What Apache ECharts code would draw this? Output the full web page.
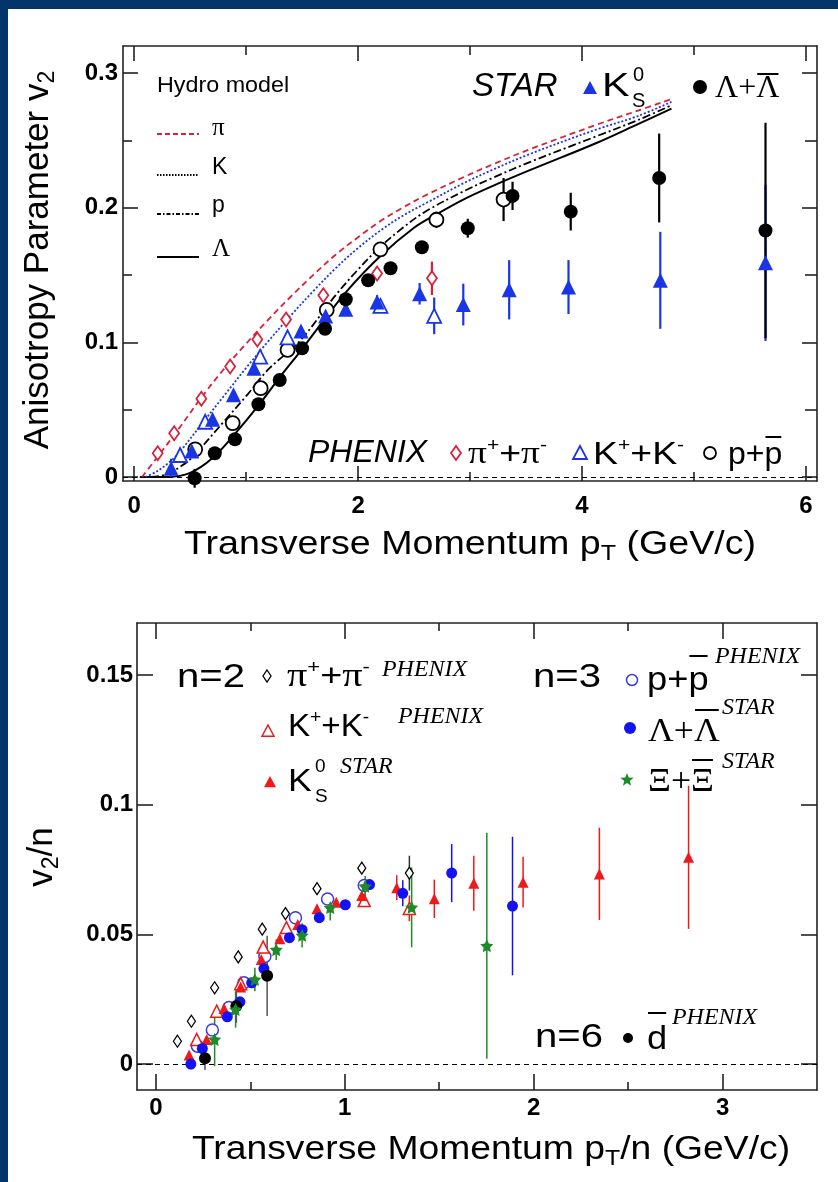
<!DOCTYPE html>
<html>
<head>
<meta charset="utf-8">
<script src="https://cdn.jsdelivr.net/npm/echarts@6/dist/echarts.min.js"></script>
<style>
html, body { margin: 0; padding: 0; background: #fff; }
#chart { width: 838px; height: 1182px; }
</style>
</head>
<body>
<div id="chart"></div>
<script>
// ---- upper panel: v2 vs pT, points are [pT, v2, error] ----
const piPhenix = [[0.21,0.0176,0],[0.357,0.0324,0],[0.60,0.058,0],[0.857,0.082,0],[1.10,0.102,0],[1.357,0.117,0],[1.69,0.135,0.003],[2.17,0.151,0.004],[2.66,0.1475,0.0124]];
const kPhenix = [[0.41,0.0163,0],[0.634,0.041,0],[1.125,0.0893,0],[1.37,0.1037,0],[2.20,0.127,0.004],[2.68,0.1196,0.0136]];
const pPhenix = [[0.545,0.0205,0],[0.88,0.040,0],[1.13,0.0659,0.003],[1.37,0.0943,0.003],[1.72,0.124,0.004],[2.20,0.169,0.004],[2.70,0.191,0.006],[3.30,0.206,0.016]];
const k0Star = [[0.33,0.0065,0.007],[0.515,0.0193,0.003],[0.70,0.0428,0],[0.887,0.061,0],[1.07,0.0807,0],[1.49,0.1084,0],[1.71,0.1196,0],[1.89,0.1245,0.003],[2.17,0.130,0.005],[2.55,0.136,0.008],[2.94,0.128,0.0155],[3.35,0.139,0.022],[3.88,0.141,0.02],[4.70,0.146,0.036],[5.64,0.159,0.058]];
const lamStar = [[0.54,-0.001,0.007],[0.72,0.0176,0],[0.90,0.028,0],[1.11,0.054,0],[1.30,0.072,0],[1.50,0.0955,0],[1.705,0.110,0],[1.89,0.132,0.003],[2.09,0.146,0.003],[2.29,0.155,0.003],[2.57,0.1706,0.004],[2.98,0.1847,0.007],[3.38,0.2087,0.0105],[3.90,0.197,0.014],[4.69,0.222,0.033],[5.64,0.183,0.08]];

// hydro model curves
const hydroPi = [[0.07,0],[0.2,0.014],[0.4,0.036],[0.6,0.059],[0.8,0.080],[1.0,0.099],[1.2,0.117],[1.4,0.134],[1.6,0.150],[1.8,0.165],[2.0,0.178],[2.2,0.190],[2.4,0.200],[2.6,0.209],[2.94,0.2225],[3.2,0.232],[3.54,0.2435],[4.13,0.2615],[4.5,0.272],[4.8,0.2805]];
const hydroK = [[0.1,0],[0.2,0.004],[0.3,0.010],[0.4,0.018],[0.6,0.039],[0.8,0.060],[1.0,0.081],[1.2,0.101],[1.4,0.120],[1.6,0.138],[1.8,0.155],[2.0,0.170],[2.2,0.183],[2.4,0.194],[2.6,0.203],[2.94,0.218],[3.2,0.228],[3.54,0.240],[4.13,0.258],[4.5,0.268],[4.8,0.2785]];
const hydroP = [[0.15,0],[0.3,0.002],[0.4,0.007],[0.5,0.013],[0.6,0.022],[0.8,0.041],[1.0,0.060],[1.2,0.080],[1.48,0.101],[1.8,0.135],[2.0,0.154],[2.2,0.171],[2.4,0.185],[2.6,0.197],[2.94,0.212],[3.2,0.222],[3.54,0.234],[4.13,0.253],[4.5,0.265],[4.8,0.276]];
const hydroLam = [[0.05,0],[0.3,0.0],[0.5,0.003],[0.7,0.014],[0.9,0.032],[1.1,0.052],[1.3,0.074],[1.5,0.095],[1.7,0.117],[1.9,0.138],[2.2,0.164],[2.5,0.185],[2.7,0.195],[2.94,0.206],[3.2,0.216],[3.54,0.228],[4.13,0.248],[4.5,0.262],[4.8,0.2735]];

// ---- lower panel: v2/n vs pT/n ----
const pi2 = [[0.114,0.0088,0],[0.188,0.0165,0],[0.311,0.0294,0],[0.436,0.0413,0],[0.563,0.052,0],[0.686,0.058,0],[0.853,0.0676,0],[1.09,0.0755,0.002],[1.342,0.0736,0.0067]];
const kp2 = [[0.216,0.0095,0],[0.322,0.0204,0],[0.449,0.031,0],[0.568,0.0451,0],[0.691,0.0526,0],[1.103,0.063,0.002],[1.342,0.060,0.005]];
const k0s2 = [[0.176,0.0035,0],[0.269,0.0095,0],[0.361,0.0214,0],[0.449,0.0297,0],[0.558,0.0403,0],[0.656,0.0483,0],[0.751,0.0538,0],[0.853,0.0599,0],[0.955,0.0624,0],[1.09,0.065,0.002],[1.275,0.068,0.0048],[1.474,0.0637,0.0074],[1.683,0.0697,0.0106],[1.944,0.0701,0.0098],[2.348,0.0733,0.0178],[2.82,0.0797,0.0276]];
const pp3 = [[0.22,0.0069,0],[0.299,0.0131,0],[0.387,0.0218,0],[0.466,0.0313,0],[0.577,0.0415,0],[0.739,0.0564,0],[0.909,0.0636,0.002],[1.103,0.0688,0.002]];
const lam3 = [[0.185,0.0,0.002],[0.246,0.006,0],[0.378,0.0182,0],[0.445,0.024,0],[0.507,0.0313,0],[0.572,0.0368,0],[0.707,0.0487,0],[0.774,0.0518,0],[0.865,0.0564,0],[1.003,0.0614,0],[1.131,0.0692,0.002],[1.307,0.0658,0.005],[1.566,0.0736,0.0112],[1.888,0.0609,0.0267]];
const xi3 = [[0.311,0.0095,0.0103],[0.422,0.021,0.007],[0.524,0.0326,0.0045],[0.637,0.0441,0.004],[0.774,0.0496,0.0047],[0.923,0.0603,0.005],[1.108,0.0685,0.004],[1.354,0.0604,0.0154],[1.752,0.0456,0.0436]];
const d6 = [[0.26,0.0022,0.0045],[0.426,0.0224,0.0065],[0.589,0.034,0.0155]];

// tick positions
const topXMajor = [0, 2, 4, 6];
const topXMinor = [1, 3, 5];
const topYMajor = [0, 0.1, 0.2, 0.3];
const topYMinor = [0.05, 0.15, 0.25];
const botXMajor = [0, 1, 2, 3];
const botXMinor = [0.5, 1.5, 2.5];
const botYMajor = [0, 0.05, 0.1, 0.15];

const SANS = '"Liberation Sans", Arial, Helvetica, sans-serif';
const SERIF = '"Liberation Serif", "Times New Roman", serif';
const RED = '#d8203c', BLUE = '#1a35e6';
const RED2 = '#f01818', BLUE2 = '#1212f2', BLUE2O = '#3a3ae0', GREEN = '#1f8a2a';
const STAR_PATH = 'path://M0,-10L2.94,-4.05L9.51,-3.09L4.76,1.55L5.88,8.09L0,5L-5.88,8.09L-4.76,1.55L-9.51,-3.09L-2.94,-4.05Z';

function axis(grid, pos, min, max, ticks, len, labels, margin, line) {
  return {
    type: 'value', gridIndex: grid, position: pos, min: min, max: max,
    axisLine: { show: line, onZero: false, lineStyle: { color: '#222', width: 1.6 } },
    axisTick: { show: true, inside: true, length: len, customValues: ticks, lineStyle: { color: '#222', width: 1.6 } },
    axisLabel: labels ? { show: true, customValues: labels, margin: margin, color: '#000',
      fontFamily: SANS, fontWeight: 'bold', fontSize: 24 } : { show: false },
    splitLine: { show: false }
  };
}

function errBars(data, color, ax, width) {
  return {
    type: 'custom', xAxisIndex: ax, yAxisIndex: ax, data: data, z: 2, silent: true,
    encode: { x: 0, y: 1 },
    renderItem: function (params, api) {
      const e = api.value(2);
      if (!e) return null;
      const a = api.coord([api.value(0), api.value(1) - e]);
      const b = api.coord([api.value(0), api.value(1) + e]);
      return { type: 'line', shape: { x1: a[0], y1: a[1], x2: b[0], y2: b[1] },
        style: { stroke: color, lineWidth: width } };
    }
  };
}

function points(data, symbol, size, fill, stroke, bw, ax) {
  return {
    type: 'scatter', xAxisIndex: ax, yAxisIndex: ax, data: data, symbol: symbol, symbolSize: size,
    z: 5, silent: true,
    itemStyle: { color: fill, borderColor: stroke, borderWidth: bw, opacity: 1 }
  };
}

function curve(data, color, dash, width) {
  return {
    type: 'line', xAxisIndex: 0, yAxisIndex: 0, data: data, showSymbol: false, smooth: 0.35,
    silent: true, z: 1, lineStyle: { color: color, type: dash, width: width }
  };
}

const zeroLine = {
  silent: true, symbol: 'none', label: { show: false },
  lineStyle: { color: '#000', type: [5, 4], width: 1 }, data: [{ yAxis: 0 }]
};

// ---- text helpers ----
const mctx = document.createElement('canvas').getContext('2d');
function tw(font, s) { mctx.font = font; return mctx.measureText(s).width; }

function txt(x, y, text, font, o) {
  o = o || {};
  const al = o.align || 'left';
  const st = { text: text, font: font, fill: '#000', align: al, textAlign: al,
    verticalAlign: 'middle', textVerticalAlign: 'middle' };
  if (o.rich) st.rich = o.rich;
  const el = { type: 'text', x: x, y: y, z: 50, silent: true, style: st };
  if (o.rotation) el.rotation = o.rotation;
  if (o.sx) el.scaleX = o.sx;
  if (o.sy) el.scaleY = o.sy;
  return el;
}
function seg(x1, y1, x2, y2, color, w, dash) {
  const st = { stroke: color, lineWidth: w };
  if (dash) st.lineDash = dash;
  return { type: 'line', z: 50, silent: true, shape: { x1: x1, y1: y1, x2: x2, y2: y2 }, style: st };
}
function overline(x0, y, font, prefix, target, sx) {
  sx = sx || 1;
  const a = x0 + tw(font, prefix) * sx, b = x0 + tw(font, prefix + target) * sx;
  return seg(a + 1, y, b - 1, y, '#000', 2);
}
function tri(cx, cy, s, fill, stroke, w) {
  return { type: 'polygon', z: 50, silent: true,
    shape: { points: [[cx - s / 2, cy + s * 0.43], [cx + s / 2, cy + s * 0.43], [cx, cy - s * 0.5]] },
    style: { fill: fill, stroke: stroke, lineWidth: w || 0 } };
}
function dia(cx, cy, w, h, stroke, lw) {
  return { type: 'polygon', z: 50, silent: true,
    shape: { points: [[cx, cy - h / 2], [cx + w / 2, cy], [cx, cy + h / 2], [cx - w / 2, cy]] },
    style: { fill: '#fff', stroke: stroke, lineWidth: lw } };
}
function dot(cx, cy, r, fill, stroke, lw) {
  return { type: 'circle', z: 50, silent: true, shape: { cx: cx, cy: cy, r: r },
    style: { fill: fill, stroke: stroke || null, lineWidth: lw || 0 } };
}
function starShape(cx, cy, r, fill) {
  const pts = [];
  for (let i = 0; i < 10; i++) {
    const a = -Math.PI / 2 + i * Math.PI / 5, rr = i % 2 ? r * 0.42 : r;
    pts.push([cx + rr * Math.cos(a), cy + rr * Math.sin(a)]);
  }
  return { type: 'polygon', z: 50, silent: true, shape: { points: pts }, style: { fill: fill } };
}

const F32 = '32px ' + SANS, F33 = '33px ' + SANS;
const G32 = '32px ' + SERIF, G33 = '33px ' + SERIF;
const TAG = 'italic 23px ' + SERIF;
const richBig = {
  g: { fontSize: 32, fontFamily: SERIF, lineHeight: 36 },
  n: { fontSize: 32, fontFamily: SANS, lineHeight: 36 },
  s: { fontSize: 18, fontFamily: SANS, lineHeight: 18, verticalAlign: 'top' }
};
const richMid = {
  g: { fontSize: 33, fontFamily: SERIF, lineHeight: 36 },
  n: { fontSize: 31, fontFamily: SANS, lineHeight: 36 },
  s: { fontSize: 18, fontFamily: SANS, lineHeight: 18, verticalAlign: 'top' }
};
const richTitle = {
  n: { fontSize: 33, fontFamily: SANS, lineHeight: 40 },
  s: { fontSize: 22, fontFamily: SANS, lineHeight: 22, verticalAlign: 'bottom' }
};
const richTitleV = {
  n: { fontSize: 35, fontFamily: SANS, lineHeight: 42 },
  s: { fontSize: 23, fontFamily: SANS, lineHeight: 23, verticalAlign: 'bottom' }
};

const graphics = [
  // page frame strips
  { type: 'rect', z: 0, silent: true, shape: { x: 0, y: 0, width: 838, height: 9 }, style: { fill: '#02366a' } },
  { type: 'rect', z: 0, silent: true, shape: { x: 0, y: 0, width: 8, height: 1182 }, style: { fill: '#02366a' } },

  // upper panel titles
  txt(470, 545, '{n|Transverse Momentum p}{s|T}{n| (GeV/c)}', F32, { align: 'center', rich: richTitle, sx: 1.14 }),
  txt(38, 260, '{n|Anisotropy Parameter v}{s|2}', F32, { align: 'center', rich: richTitleV, rotation: Math.PI / 2 }),

  // hydro legend
  txt(157, 86, 'Hydro model', '22px ' + SANS, { sx: 1.06 }),
  seg(157, 134, 199, 134, RED, 1.8, [5, 3]),
  txt(212, 128, 'π', '25px ' + SERIF),
  seg(157, 175, 199, 175, '#000', 1.8, [1.5, 1.5]),
  txt(212, 168, 'K', '23px ' + SANS),
  seg(157, 214, 199, 214, '#000', 1.8, [4, 2, 1.5, 2]),
  txt(212, 206, 'p', '23px ' + SANS),
  seg(157, 257, 199, 257, '#000', 2),
  txt(212, 249, 'Λ', '25px ' + SERIF),

  // STAR legend
  txt(472, 87, 'STAR', 'italic 33px ' + SANS),
  tri(590, 88, 14, BLUE),
  txt(602, 87, 'K', '33px ' + SANS, { sx: 1.25 }),
  txt(633, 75, '0', '20px ' + SANS),
  txt(632, 101, 'S', '20px ' + SANS),
  dot(700, 87, 7, '#000'),
  txt(715, 89, 'Λ+Λ', G32),
  overline(715, 74, G32, 'Λ+', 'Λ'),

  // PHENIX legend
  txt(308, 453, 'PHENIX', 'italic ' + F32),
  dia(456, 453, 10, 14, RED, 1.8),
  txt(468, 455, '{g|π}{s|+}{n|+}{g|π}{s|-}', F32, { rich: richBig, sx: 1.17 }),
  tri(580, 453, 14, '#fff', BLUE, 1.8),
  txt(593, 455, '{n|K}{s|+}{n|+K}{s|-}', F32, { rich: richBig, sx: 1.17 }),
  dot(710, 453, 6, '#fff', '#000', 1.8),
  txt(728, 455, 'p+p', F32),
  overline(728, 437, F32, 'p+', 'p'),

  // lower panel titles
  txt(491, 1150, '{n|Transverse Momentum p}{s|T}{n|/n (GeV/c)}', F32, { align: 'center', rich: richTitle, sx: 1.13 }),
  txt(42, 857, '{n|v}{s|2}{n|/n}', F32, { align: 'center', rich: richTitleV, rotation: Math.PI / 2 }),

  // n=2 block
  txt(177, 678, 'n=2', '34px ' + SANS, { sx: 1.18 }),
  dia(267, 676, 8, 12, '#000', 1.3),
  txt(287, 677, '{g|π}{s|+}{n|+}{g|π}{s|-}', F32, { rich: richMid, sx: 1.22 }),
  txt(382, 670, 'PHENIX', TAG, { sx: 1.04 }),
  tri(268, 731, 12, '#fff', RED2, 1.5),
  txt(288, 727, '{n|K}{s|+}{n|+K}{s|-}', F32, { rich: richMid, sx: 1.07 }),
  txt(398, 717, 'PHENIX', TAG, { sx: 1.04 }),
  tri(270, 782, 12, RED2),
  txt(288, 782, 'K', '31px ' + SANS, { sx: 1.15 }),
  txt(315, 767, '0', '19px ' + SANS),
  txt(315, 797, 'S', '19px ' + SANS),
  txt(340, 767, 'STAR', TAG, { sx: 1.04 }),

  // n=3 block
  txt(533, 678, 'n=3', '34px ' + SANS, { sx: 1.18 }),
  dot(632, 680, 5.5, '#fff', BLUE2O, 1.5),
  txt(647, 681, 'p+p', F33, { sx: 1.1 }),
  overline(647, 656, F33, 'p+', 'p', 1.1),
  txt(715, 657, 'PHENIX', TAG, { sx: 1.04 }),
  dot(630, 728, 6, BLUE2),
  txt(648, 732, 'Λ+Λ', G33, { sx: 1.08 }),
  overline(648, 710, G33, 'Λ+', 'Λ', 1.08),
  txt(722, 708, 'STAR', TAG, { sx: 1.04 }),
  starShape(627, 780, 7, GREEN),
  txt(648, 782, 'Ξ+Ξ', G33, { sx: 1.08 }),
  overline(648, 760, G33, 'Ξ+', 'Ξ', 1.08),
  txt(722, 762, 'STAR', TAG, { sx: 1.04 }),

  // n=6 block
  txt(535, 1038, 'n=6', '34px ' + SANS, { sx: 1.18 }),
  dot(628, 1038, 5, '#000'),
  txt(647, 1040, 'd', F33, { sx: 1.1 }),
  overline(647, 1013, F33, '', 'd', 1.1),
  txt(672, 1018, 'PHENIX', TAG, { sx: 1.04 })
];

const option = {
  backgroundColor: '#fff',
  animation: false,
  grid: [
    { left: 123, top: 46, width: 694, height: 435 },
    { left: 137, top: 623, width: 680, height: 467 }
  ],
  xAxis: [
    axis(0, 'bottom', -0.1, 6.1, topXMajor, 15, topXMajor, 13, true),
    axis(0, 'bottom', -0.1, 6.1, topXMinor, 9, null, 0, false),
    axis(0, 'top', -0.1, 6.1, topXMajor, 15, null, 0, true),
    axis(0, 'top', -0.1, 6.1, topXMinor, 9, null, 0, false),
    axis(1, 'bottom', -0.1, 3.5, botXMajor, 16, botXMajor, 6, true),
    axis(1, 'bottom', -0.1, 3.5, botXMinor, 8, null, 0, false),
    axis(1, 'top', -0.1, 3.5, botXMajor, 16, null, 0, true),
    axis(1, 'top', -0.1, 3.5, botXMinor, 8, null, 0, false)
  ],
  yAxis: [
    axis(0, 'left', -0.003, 0.32, topYMajor, 15, topYMajor, 5, true),
    axis(0, 'left', -0.003, 0.32, topYMinor, 9, null, 0, false),
    axis(0, 'right', -0.003, 0.32, topYMajor, 15, null, 0, true),
    axis(0, 'right', -0.003, 0.32, topYMinor, 12, null, 0, false),
    axis(1, 'left', -0.01, 0.17, botYMajor, 16, botYMajor, 4, true),
    axis(1, 'right', -0.01, 0.17, botYMajor, 16, null, 0, true)
  ],
  graphic: { elements: graphics },
  series: [
    Object.assign(curve(hydroLam, '#000', 'solid', 2), { markLine: zeroLine }),
    curve(hydroP, '#000', [8, 3, 2, 3], 1.8),
    curve(hydroK, BLUE, [2, 2], 1.8),
    curve(hydroPi, RED, [6, 4], 1.8),

    errBars(piPhenix, RED, 0, 2.2),
    errBars(kPhenix, BLUE, 0, 2.2),
    errBars(pPhenix, '#000', 0, 2.2),
    errBars(k0Star, BLUE, 0, 2.2),
    errBars(lamStar, '#000', 0, 2.2),
    points(pPhenix, 'circle', 14, '#fff', '#000', 1.8, 0),
    points(kPhenix, 'triangle', 14, '#fff', BLUE, 1.8, 0),
    points(piPhenix, 'diamond', [10, 14], '#fff', RED, 1.8, 0),
    points(k0Star, 'triangle', 15, BLUE, BLUE, 0, 0),
    points(lamStar, 'circle', 14, '#000', '#000', 0, 0),

    errBars(pi2, '#333', 4, 1.5),
    errBars(kp2, RED2, 4, 1.5),
    errBars(k0s2, RED2, 4, 1.5),
    errBars(pp3, BLUE2, 4, 1.5),
    errBars(lam3, BLUE2, 4, 1.5),
    errBars(xi3, GREEN, 4, 1.5),
    errBars(d6, '#555', 4, 1.5),
    Object.assign(points(pi2, 'diamond', [8, 12], '#fff', '#000', 1.3, 4), { markLine: zeroLine }),
    points(pp3, 'circle', 12, '#fff', BLUE2O, 1.5, 4),
    points(kp2, 'triangle', 12, '#fff', RED2, 1.5, 4),
    points(k0s2, 'triangle', 11, RED2, RED2, 0, 4),
    points(lam3, 'circle', 11, BLUE2, BLUE2, 0, 4),
    points(d6, 'circle', 12, '#000', '#000', 0, 4),
    points(xi3, STAR_PATH, 13, GREEN, GREEN, 0, 4)
  ]
};

const chart = echarts.init(document.getElementById('chart'), null, { renderer: 'canvas' });
chart.setOption(option);
</script>
</body>
</html>
